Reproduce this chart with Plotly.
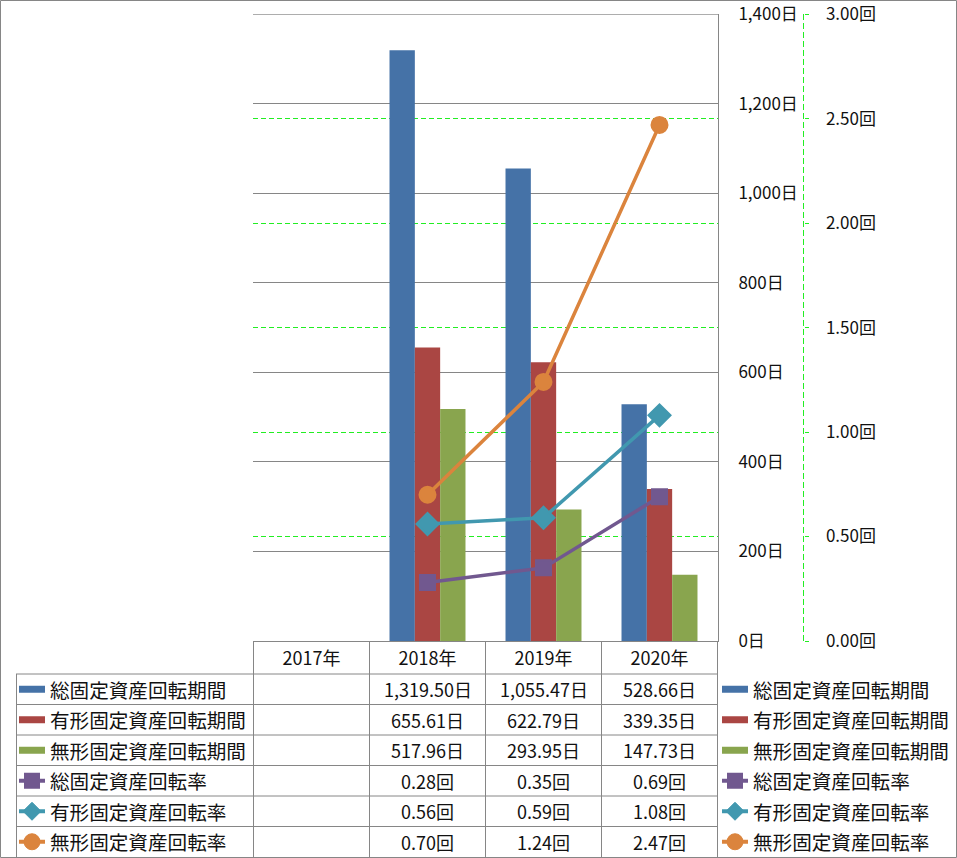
import plotly.graph_objects as go

W, H = 957, 858

years = ["2017年", "2018年", "2019年", "2020年"]
total_days = [None, 1319.50, 1055.47, 528.66]
tangible_days = [None, 655.61, 622.79, 339.35]
intangible_days = [None, 517.96, 293.95, 147.73]
total_rate = [None, 0.28, 0.35, 0.69]
tangible_rate = [None, 0.56, 0.59, 1.08]
intangible_rate = [None, 0.70, 1.24, 2.47]

bar_names = ["総固定資産回転期間", "有形固定資産回転期間", "無形固定資産回転期間"]
line_names = ["総固定資産回転率", "有形固定資産回転率", "無形固定資産回転率"]
bar_colors = ["#4572A7", "#AA4643", "#89A54E"]
line_colors = ["#71588F", "#4198AF", "#DB843D"]
line_symbols = ["square", "diamond", "circle"]

FONT = "Noto Sans CJK JP"
GRAY = "#868686"
TXT = "#111111"
LIME = "#22ee22"
Y_MAX = 1400


def X(px):
    return px / W


def Y(py):
    return 1 - py / H


fig = go.Figure()
for name, vals, col in zip(bar_names, [total_days, tangible_days, intangible_days], bar_colors):
    fig.add_trace(go.Bar(x=years, y=vals, name=name, marker=dict(color=col, line=dict(width=0)),
                         yaxis="y", showlegend=False))
msizes = [15, 17, 16]
for name, vals, col, sym, ms in zip(line_names, [total_rate, tangible_rate, intangible_rate],
                                    line_colors, line_symbols, msizes):
    fig.add_trace(go.Scatter(x=years, y=vals, name=name, mode="lines+markers", yaxis="y2",
                             line=dict(color=col, width=3.5),
                             marker=dict(symbol=sym, size=ms, color=col, line=dict(color=col, width=2)),
                             showlegend=False))

x0, x1 = 253, 718
top, bot = 14, 641

shapes = []
annots = []

# outer border
shapes.append(dict(type="rect", xref="paper", yref="paper", x0=X(0.5), x1=X(956.5), y0=Y(0.5), y1=Y(857.5),
                   line=dict(color=GRAY, width=1), layer="below"))
# top gridline (primary axis max)
shapes.append(dict(type="line", xref="x domain", yref="y", x0=0, x1=1, y0=Y_MAX, y1=Y_MAX,
                   line=dict(color=GRAY, width=1), layer="below"))
# secondary axis dashed line
shapes.append(dict(type="line", xref="paper", yref="paper", x0=X(803.5), x1=X(803.5), y0=Y(top), y1=Y(bot),
                   line=dict(color=LIME, width=1, dash="6px,3px")))

# table geometry
row_edges = [674 + i * 30.5 for i in range(7)]
for ry in row_edges[:-1]:
    shapes.append(dict(type="line", xref="paper", yref="paper", x0=X(16), x1=X(x1), y0=Y(ry), y1=Y(ry),
                       line=dict(color=GRAY, width=1)))
shapes.append(dict(type="line", xref="paper", yref="paper", x0=X(16.5), x1=X(16.5), y0=Y(674), y1=Y(857),
                   line=dict(color=GRAY, width=1)))
for b in [-0.5, 0.5, 1.5, 2.5, 3.5]:
    shapes.append(dict(type="line", xref="x", yref="paper", x0=b, x1=b, y0=Y(bot), y1=Y(857),
                       line=dict(color=GRAY, width=1)))

row_vals = [(total_days, "日"), (tangible_days, "日"), (intangible_days, "日"),
            (total_rate, "回"), (tangible_rate, "回"), (intangible_rate, "回")]
all_names = bar_names + line_names
all_colors = bar_colors + line_colors


def add_symbol(i, sx0, sx1, cy):
    col = all_colors[i]
    if i < 3:
        shapes.append(dict(type="rect", xref="paper", yref="paper", x0=X(sx0), x1=X(sx1), y0=Y(cy - 3.5),
                           y1=Y(cy + 3.5), line=dict(width=0), fillcolor=col))
    else:
        shapes.append(dict(type="line", xref="paper", yref="paper", x0=X(sx0), x1=X(sx1), y0=Y(cy), y1=Y(cy),
                           line=dict(color=col, width=4)))
        cx = (sx0 + sx1) / 2
        k = i - 3
        if k == 0:
            shapes.append(dict(type="rect", xref="paper", yref="paper", x0=X(cx - 7), x1=X(cx + 7),
                               y0=Y(cy + 7), y1=Y(cy - 7), line=dict(color=col, width=2), fillcolor=col))
        elif k == 1:
            p = f"M {X(cx - 9)} {Y(cy)} L {X(cx)} {Y(cy - 9)} L {X(cx + 9)} {Y(cy)} L {X(cx)} {Y(cy + 9)} Z"
            shapes.append(dict(type="path", xref="paper", yref="paper", path=p, line=dict(color=col, width=1),
                               fillcolor=col))
        else:
            shapes.append(dict(type="circle", xref="paper", yref="paper", x0=X(cx - 8), x1=X(cx + 8),
                               y0=Y(cy + 8), y1=Y(cy - 8), line=dict(color=col, width=1), fillcolor=col))


for i in range(6):
    cy = (row_edges[i] + row_edges[i + 1]) / 2
    add_symbol(i, 19, 45, cy)
    add_symbol(i, 722, 748, cy)
    for px in (48, 751):
        annots.append(dict(x=X(px), y=Y(cy), xref="paper", yref="paper", text=all_names[i], showarrow=False,
                           xanchor="left", yanchor="middle", font=dict(family=FONT, size=19.6, color=TXT)))
    vals, suf = row_vals[i]
    for j, v in enumerate(vals):
        if v is None:
            continue
        txt = (f"{v:,.2f}" + suf)
        annots.append(dict(x=years[j], y=Y(cy), xref="x", yref="paper", text=txt, showarrow=False,
                           xanchor="center", yanchor="middle", font=dict(family=FONT, size=18, color=TXT)))

fig.update_layout(
    width=W, height=H,
    margin=dict(l=0, r=0, t=0, b=0),
    paper_bgcolor="white", plot_bgcolor="white",
    barmode="group", bargap=0.345, bargroupgap=0,
    font=dict(family=FONT, size=17, color=TXT),
    xaxis=dict(domain=[X(x0), X(x1)], type="category", categoryorder="array", categoryarray=years,
               showline=True, linecolor=GRAY, linewidth=1, ticks="", showgrid=False,
               tickfont=dict(family=FONT, size=18, color=TXT), ticklabelstandoff=1, automargin=False),
    yaxis=dict(domain=[Y(bot), Y(top)], range=[0, Y_MAX + 0.4], tick0=0, dtick=200, side="right", anchor="x",
               showline=True, linecolor=GRAY, linewidth=1, ticks="", showgrid=True, gridcolor=GRAY,
               gridwidth=1, zeroline=False, tickformat=",d", ticksuffix="日",
               tickfont=dict(family=FONT, size=17, color=TXT), ticklabelstandoff=16, automargin=False),
    yaxis2=dict(overlaying="y", range=[0, 3.0009], tick0=0, dtick=0.5, side="right", anchor="free",
                position=X(803.5),
                showline=False, ticks="outside", ticklen=4, tickcolor=LIME, showgrid=True, gridcolor=LIME,
                griddash="5px,3px", gridwidth=1, zeroline=False, tickformat=".2f", ticksuffix="回",
                tickfont=dict(family=FONT, size=17, color=TXT), ticklabelstandoff=14, automargin=False),
    shapes=shapes, annotations=annots,
)

fig.write_html("out.html")
